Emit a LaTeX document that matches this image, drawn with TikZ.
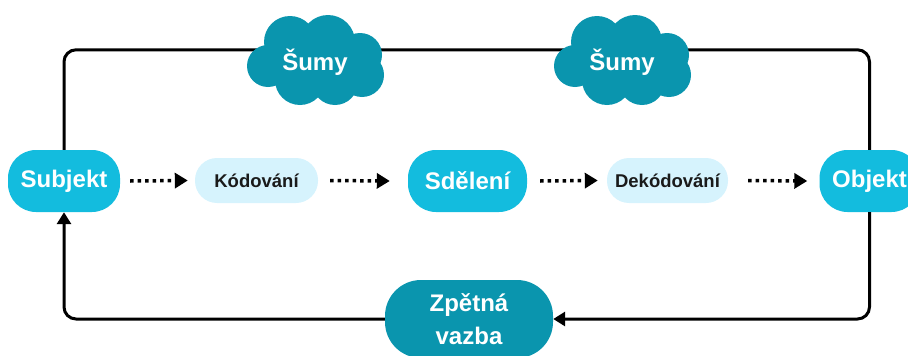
\documentclass[tikz,border=0pt]{standalone}
\usepackage{fontspec}
\setmainfont{Liberation Sans}
\usetikzlibrary{arrows.meta}
\definecolor{cyanN}{HTML}{13BCDE}
\definecolor{lightN}{HTML}{D6F3FD}
\definecolor{tealN}{HTML}{0A95AE}
\definecolor{darkT}{HTML}{1A1A1A}
\begin{document}
\begin{tikzpicture}[x=1pt,y=-1pt,
  mainbox/.style={fill=cyanN, text=white, font=\bfseries\fontsize{24}{28}\selectfont, rounded corners=28pt, minimum height=62pt, inner sep=0pt},
  subbox/.style={fill=lightN, text=darkT, font=\bfseries\fontsize{18.5}{22}\selectfont, rounded corners=22pt, minimum height=45pt, inner sep=0pt},
  fbbox/.style={fill=tealN, text=white, font=\bfseries\fontsize{24}{33}\selectfont, align=center, rounded corners=36pt, minimum height=78pt, minimum width=168pt, inner sep=0pt},
  noisetext/.style={text=white, font=\bfseries\fontsize{24}{28}\selectfont, inner sep=0pt},
  noisecloud/.pic={
    \fill[tealN] (-25,-18) circle[radius=26pt] (13,-18) circle[radius=27pt]
      (45,-5) circle[radius=22pt] (-47,6) circle[radius=21pt]
      (47,15) circle[radius=22pt] (-15,20) circle[radius=25pt]
      (20,22) circle[radius=23pt] (0,2) ellipse[x radius=42pt, y radius=30pt];
  },
  loopline/.style={line width=3pt, draw=black, rounded corners=12pt},
  tip/.style={-{Triangle[length=12pt,width=14pt]}},
  dotarrow/.style={line width=3.5pt, dash pattern=on 3.5pt off 4pt, -{Triangle[length=13pt,width=15pt]}}
]
\useasboundingbox (0,0) rectangle (908,356);
\clip (0,0) rectangle (908,356);
% main nodes
\node[mainbox, minimum width=112pt] (sub) at (64,181) {Subjekt};
\node[subbox, minimum width=123pt] (kod) at (256.5,180.5) {Kódování};
\node[mainbox, minimum width=119pt] (sde) at (467.5,181) {Sdělení};
\node[subbox, minimum width=121pt] (dek) at (667.5,180.5) {Dekódování};
\node[mainbox, minimum width=100pt] (obj) at (869.5,181) {Objekt};
\node[fbbox] (zv) at (469,319) {Zpětná\\vazba};
% loop lines
\draw[loopline] (sub.north) -- ++(0,-100) -| (obj.north);
\draw[loopline, tip] (obj.south) |- (zv.east);
\draw[loopline, tip] (zv.west) -| (sub.south);
% dotted arrows
\draw[dotarrow] ([xshift=10pt]sub.east) -- ([xshift=-7pt]kod.west);
\draw[dotarrow] ([xshift=12pt]kod.east) -- ([xshift=-18pt]sde.west);
\draw[dotarrow] ([xshift=13pt]sde.east) -- ([xshift=-9pt]dek.west);
\draw[dotarrow] ([xshift=20pt]dek.east) -- ([xshift=-12pt]obj.west);
% noise clouds
\pic at (315,60) {noisecloud};
\node[noisetext] (s1) at (315,62) {Šumy};
\pic at (622,60) {noisecloud};
\node[noisetext] (s2) at (622,62) {Šumy};
\end{tikzpicture}
\end{document}
